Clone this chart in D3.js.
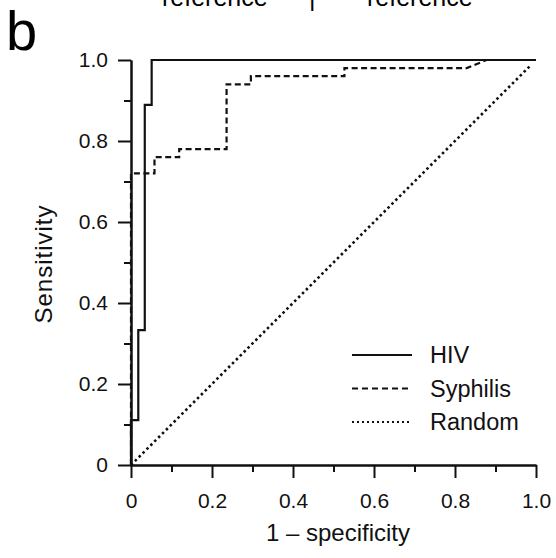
<!DOCTYPE html>
<html>
<head>
<meta charset="utf-8">
<script src="https://cdn.jsdelivr.net/npm/d3@7"></script>
<style>
  body { margin: 0; background: #fff; }
  svg { display: block; font-family: Arial, "Liberation Sans", sans-serif; }
</style>
</head>
<body>
<div id="viz"></div>
<script>
// ROC curves, HIV vs syphilis, plus the random line
const hivFpr = [0, 0, 0.018, 0.018, 0.034, 0.034, 0.051, 0.051, 1.0];
const hivTpr = [0, 0.111, 0.111, 0.333, 0.333, 0.889, 0.889, 1.0, 1.0];

const syphFpr = [0, 0, 0.058, 0.058, 0.119, 0.119, 0.236, 0.236, 0.296, 0.296, 0.527, 0.527, 0.829, 0.878, 1.0];
const syphTpr = [0, 0.72, 0.72, 0.76, 0.76, 0.78, 0.78, 0.94, 0.94, 0.96, 0.96, 0.98, 0.98, 1.0, 1.0];

const randFpr = [0, 0.985];
const randTpr = [0, 0.985];

const majorTicks = [0, 0.2, 0.4, 0.6, 0.8, 1.0];
const minorTicks = [0.1, 0.3, 0.5, 0.7, 0.9];
const legendNames = ["HIV", "Syphilis", "Random"];

function drawChart() {
    const dimensions = {
        width: 556,
        height: 558,
        margins: { top: 60, left: 131, right: 20, bottom: 93 }
    };
    dimensions.boundedWidth = dimensions.width - dimensions.margins.left - dimensions.margins.right;
    dimensions.boundedHeight = dimensions.height - dimensions.margins.top - dimensions.margins.bottom;

    const viz = d3.select('#viz').append('svg')
        .attr('width', dimensions.width)
        .attr('height', dimensions.height);

    // cut-off caption at the very top
    viz.append('text').attr('x', 162).attr('y', 6).attr('font-size', 25).text('reference');
    viz.append('text').attr('x', 309).attr('y', 6).attr('font-size', 25).text('|');
    viz.append('text').attr('x', 367).attr('y', 6).attr('font-size', 25).text('reference');

    // panel letter
    viz.append('text').attr('x', 6).attr('y', 50).attr('font-size', 56).text('b');

    const bounds = viz.append('g')
        .attr('transform', `translate(${dimensions.margins.left}, ${dimensions.margins.top})`);

    const xScale = d3.scaleLinear().domain([0, 1]).range([0, dimensions.boundedWidth]);
    const yScale = d3.scaleLinear().domain([0, 1]).range([dimensions.boundedHeight, 0]);

    const fmt = d => d === 0 ? '0' : d3.format('.1f')(d);

    // axes: major ticks with labels, minor ticks without
    const xAxis = bounds.append('g')
        .attr('transform', `translate(0, ${dimensions.boundedHeight})`)
        .call(d3.axisBottom(xScale).tickValues(majorTicks).tickFormat(fmt)
            .tickSize(13).tickSizeOuter(0).tickPadding(15));
    bounds.append('g')
        .attr('transform', `translate(0, ${dimensions.boundedHeight})`)
        .call(d3.axisBottom(xScale).tickValues(minorTicks).tickFormat('')
            .tickSize(7).tickSizeOuter(0));

    const yAxis = bounds.append('g')
        .call(d3.axisLeft(yScale).tickValues(majorTicks).tickFormat(fmt)
            .tickSize(13).tickSizeOuter(0).tickPadding(10));
    bounds.append('g')
        .call(d3.axisLeft(yScale).tickValues(minorTicks).tickFormat('')
            .tickSize(7).tickSizeOuter(0));

    bounds.selectAll('.domain, .tick line')
        .attr('stroke', '#111')
        .attr('stroke-width', 2);
    bounds.selectAll('.tick text')
        .attr('font-size', 21)
        .attr('font-family', 'Arial, "Liberation Sans", sans-serif')
        .attr('fill', '#111');

    // axis titles
    viz.append('text')
        .attr('x', 338).attr('y', 541)
        .attr('text-anchor', 'middle')
        .attr('font-size', 24)
        .attr('fill', '#111')
        .text('1 \u2013 specificity');

    viz.append('text')
        .attr('transform', 'translate(52, 264) rotate(-90)')
        .attr('text-anchor', 'middle')
        .attr('font-size', 24)
        .attr('letter-spacing', 1)
        .attr('fill', '#111')
        .text('Sensitivity');

    // curves
    const line = d3.line()
        .x(d => xScale(d[0]))
        .y(d => yScale(d[1]));

    const series = [
        { name: legendNames[0], pts: d3.zip(hivFpr, hivTpr), dash: null, width: 2.2 },
        { name: legendNames[1], pts: d3.zip(syphFpr, syphTpr), dash: '6,3.5', width: 2.2 },
        { name: legendNames[2], pts: d3.zip(randFpr, randTpr), dash: '2.5,3', width: 2.6 }
    ];

    bounds.selectAll('.curve')
        .data(series)
        .join('path')
        .attr('class', 'curve')
        .attr('fill', 'none')
        .attr('stroke', '#111')
        .attr('stroke-width', d => d.width)
        .attr('stroke-dasharray', d => d.dash)
        .attr('d', d => line(d.pts));

    // legend
    const legend = viz.append('g');
    const rows = legend.selectAll('g')
        .data(series)
        .join('g')
        .attr('transform', (d, i) => `translate(352, ${355 + i * 33.5})`);
    rows.append('line')
        .attr('x1', 0).attr('x2', 60)
        .attr('stroke', '#111')
        .attr('stroke-width', (d, i) => i === 0 ? 2 : 1.8)
        .attr('stroke-dasharray', (d, i) => i === 1 ? '6,4' : (i === 2 ? '2,3' : null));
    rows.append('text')
        .attr('x', 78).attr('y', 8)
        .attr('font-size', 23.5)
        .attr('fill', '#111')
        .text(d => d.name);
}

drawChart();
</script>
</body>
</html>
